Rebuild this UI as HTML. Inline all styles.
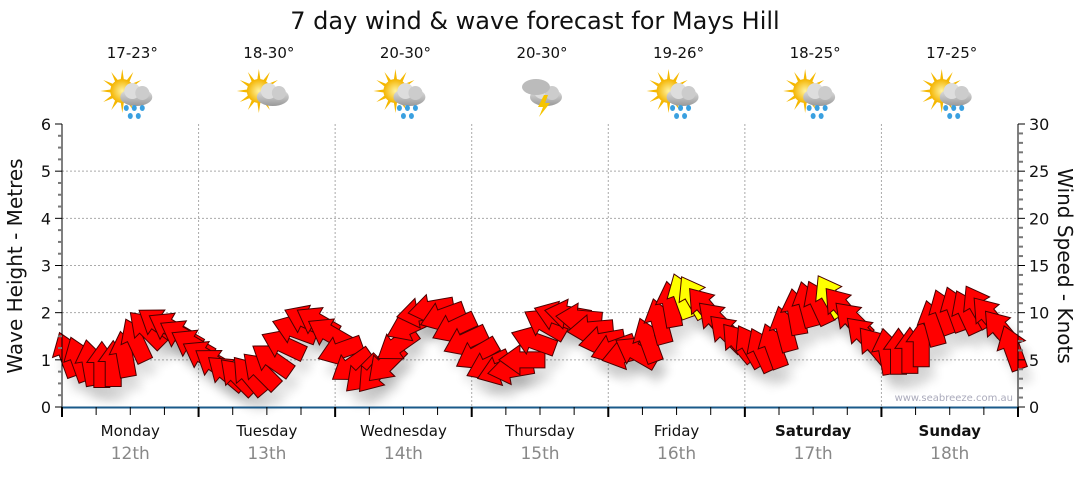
<!DOCTYPE html>
<html><head><meta charset="utf-8"><style>
body{margin:0;background:#fff;font-family:"Liberation Sans","DejaVu Sans",sans-serif}
svg text{font-family:"DejaVu Sans","Liberation Sans",sans-serif}
</style></head><body>
<svg id="c" width="1080" height="475" viewBox="0 0 1080 475" xmlns="http://www.w3.org/2000/svg">
<defs>
<filter id="sh" x="-50%" y="-50%" width="200%" height="200%"><feGaussianBlur stdDeviation="5"/></filter>
<radialGradient id="sun"><stop offset="0" stop-color="#fff3a0"/><stop offset="1" stop-color="#f4b400"/></radialGradient>
<linearGradient id="cl" x1="0" y1="0" x2="0" y2="1"><stop offset="0" stop-color="#e8e8e8"/><stop offset="1" stop-color="#999"/></linearGradient>
</defs>
<text x="535" y="29" font-size="24" text-anchor="middle" fill="#111">7 day wind &amp; wave forecast for Mays Hill</text>
<g id="grid"></g><g id="icons"></g><g id="shadows"></g><g id="arrows"></g><g id="axes"></g>
<text transform="translate(22,266) rotate(-90)" font-size="20" text-anchor="middle" fill="#111">Wave Height - Metres</text>
<text transform="translate(1058,266) rotate(90)" font-size="20" text-anchor="middle" fill="#111">Wind Speed - Knots</text>
<text x="1013" y="401" font-size="10" text-anchor="end" fill="#aab">www.seabreeze.com.au</text>
</svg>
<script>
const days=["Monday","Tuesday","Wednesday","Thursday","Friday","Saturday","Sunday"];
const dates=["12th","13th","14th","15th","16th","17th","18th"];
const temps=["17-23°","18-30°","20-30°","20-30°","19-26°","18-25°","17-25°"];
const icons=["rain","cloud","rain","storm","rain","rain","rain"];
const waveTicks=[0,1,2,3,4,5,6];
const windTicks=[0,5,10,15,20,25,30];
const windSpeed=[5.5,5.0,4.6,4.4,4.5,5.5,7.0,8.2,8.8,8.4,7.6,6.6,
 5.4,4.5,3.6,3.2,3.3,3.8,5.0,6.6,8.2,9.2,9.0,7.8,
 6.0,4.4,3.5,3.6,4.6,6.6,8.6,10.0,10.4,9.6,8.4,7.0,
 5.6,4.4,3.9,4.0,5.0,7.0,8.8,9.6,9.8,9.4,8.2,7.0,
 6.2,5.6,5.8,7.0,9.0,10.8,11.7,11.6,10.6,9.2,7.8,6.8,
 6.4,6.0,6.4,8.2,10.0,10.8,11.0,11.7,10.6,9.2,7.6,6.4,
 5.8,5.8,5.9,6.6,8.8,10.0,10.3,10.0,10.6,9.6,8.2,6.2];
const windDir=[-20,-20,-10,0,0,-10,-25,-45,-55,-60,-60,-60,
 -60,-55,-50,-45,-40,-45,-55,-65,-70,-65,-60,-60,
 -110,-125,-135,-140,-135,-125,-115,-100,-100,-110,-115,-115,
 -120,-115,-110,-100,-90,-70,-60,-70,-80,-85,-95,-100,
 -110,-105,-60,-20,-15,-10,-20,-30,-40,-45,-45,-40,
 -30,-25,-20,-15,-10,-15,-25,-30,-40,-45,-45,-40,
 -10,0,0,0,-15,-20,-20,-25,-30,-40,-40,-20];
const NS="http://www.w3.org/2000/svg";
const X0=62,X1=1018,Y0=407,Y1=124,DW=(X1-X0)/7;
const yW=v=>Y0-(v/6)*(Y0-Y1), yK=v=>Y0-(v/30)*(Y0-Y1), xT=h=>X0+h/24*DW;
function el(t,a,p){const e=document.createElementNS(NS,t);for(const k in a)e.setAttribute(k,a[k]);p.appendChild(e);return e;}
const grid=document.getElementById('grid'),axes=document.getElementById('axes'),ic=document.getElementById('icons');
for(let i=1;i<=5;i++){const g=el('line',{x1:X0,x2:X1,y1:yW(i),y2:yW(i),stroke:'#aaa','stroke-dasharray':'2,2'},grid);}
for(let d=1;d<7;d++){const g=el('line',{x1:X0+d*DW,x2:X0+d*DW,y1:Y1,y2:Y0,stroke:'#aaa','stroke-dasharray':'2,2'},grid);}
el('line',{x1:X0,x2:X0,y1:Y1,y2:Y0,stroke:'#000'},axes);
el('line',{x1:X1,x2:X1,y1:Y1,y2:Y0,stroke:'#000'},axes);
el('line',{x1:X0,x2:X1,y1:Y0+.5,y2:Y0+.5,stroke:'#1a5a8a','stroke-width':2},axes);
for(let m=0;m<=24;m++){const v=m/4,y=yW(v);el('line',{x1:X0-(m%4?4:7),x2:X0,y1:y,y2:y,stroke:m%4?'#777':'#000','stroke-width':m%4?2:1},axes);}
waveTicks.forEach(v=>{const t=el('text',{x:X0-11,y:yW(v)+6,'font-size':16,'text-anchor':'end',fill:'#111'},axes);t.textContent=v;});
for(let k=0;k<=30;k++){const y=yK(k);el('line',{x1:X1,x2:X1+(k%5?5:7),y1:y,y2:y,stroke:k%5?'#777':'#000','stroke-width':k%5?2:1},axes);}
windTicks.forEach(v=>{const t=el('text',{x:X1+11,y:yK(v)+6,'font-size':16,fill:'#111'},axes);t.textContent=v;});
for(let q=0;q<=28;q++){const x=X0+q*DW/4;el('line',{x1:x,x2:x,y1:Y0,y2:Y0+(q%4?8:10),stroke:'#000','stroke-width':q%4?1:2},axes);}
days.forEach((d,i)=>{const cx=X0+(i+0.5)*DW;
 const a=el('text',{x:cx,y:436,'font-size':15,'text-anchor':'middle',fill:'#111','font-weight':i>=5?'bold':'normal'},axes);a.textContent=d;
 const b=el('text',{x:cx,y:459,'font-size':17,'text-anchor':'middle',fill:'#888'},axes);b.textContent=dates[i];
 const t=el('text',{x:cx+2,y:58,'font-size':15,'text-anchor':'middle',fill:'#111'},ic);t.textContent=temps[i];
 const g=el('g',{transform:`translate(${cx+2},95)`},ic);
 if(icons[i]!=='storm'){for(let r=0;r<12;r++){const an=r*30*Math.PI/180;el('polygon',{points:`${-10+Math.cos(an)*22},${-4+Math.sin(an)*22} ${-10+Math.cos(an+.15)*11},${-4+Math.sin(an+.15)*11} ${-10+Math.cos(an-.15)*11},${-4+Math.sin(an-.15)*11}`,fill:'#f5b800'},g);}
  el('circle',{cx:-10,cy:-4,r:12,fill:'url(#sun)'},g);}
 el('ellipse',{cx:4,cy:2,rx:16,ry:9,fill:'url(#cl)'},g);el('circle',{cx:0,cy:-4,r:8,fill:'#ddd'},g);el('circle',{cx:10,cy:-2,r:7,fill:'#ccc'},g);
 if(icons[i]==='storm'){el('ellipse',{cx:-6,cy:-8,rx:14,ry:8,fill:'#bbb'},g);el('polygon',{points:'2,0 -4,12 1,12 -3,22 8,8 3,8 6,0',fill:'#f5c400'},g);}
 if(icons[i]==='rain'){[[-6,13],[2,13],[10,13],[-2,21],[6,21]].forEach(p=>el('ellipse',{cx:p[0],cy:p[1],rx:2.5,ry:3,fill:'#3aa0e0'},g));}
});
const sh=document.getElementById('shadows'),ar=document.getElementById('arrows');
const shape="0,-24 15,-3 8,-3 8,22 -8,22 -8,-3 -15,-3";
windSpeed.forEach((k,i)=>{const x=xT(i*2+1),y=yK(k),a=windDir[i];
 const s=el('polygon',{points:shape,transform:`translate(${x+6},${y+14}) rotate(${a})`,fill:'#000',opacity:.12,filter:'url(#sh)'},sh);
 
 
 const p=el('polygon',{points:shape,transform:`translate(${x},${y}) rotate(${a})`,fill:k>11.5?'#ffff00':'#ff0000',stroke:'#4a0000','stroke-width':1},ar);
 
 
});
</script>
</body></html>
